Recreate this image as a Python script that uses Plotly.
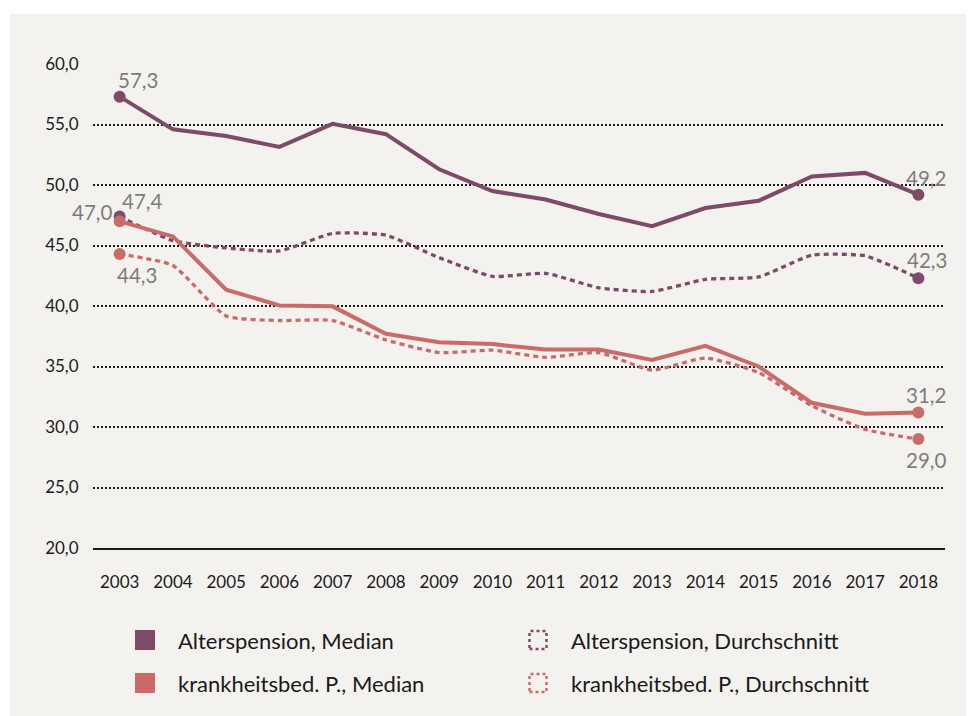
import plotly.graph_objects as go

years = list(range(2003, 2019))
alters_median = [57.3, 54.6, 54.05, 53.15, 55.05, 54.2, 51.3, 49.5, 48.8, 47.6, 46.6, 48.1, 48.7, 50.7, 51.0, 49.2]
alters_avg = [47.4, 45.4, 44.8, 44.55, 46.0, 45.85, 44.0, 42.45, 42.7, 41.5, 41.2, 42.2, 42.4, 44.2, 44.15, 42.3]
krank_median = [47.0, 45.75, 41.35, 40.05, 39.97, 37.7, 37.0, 36.85, 36.4, 36.4, 35.55, 36.7, 35.0, 32.0, 31.1, 31.2]
krank_avg = [44.3, 43.35, 39.17, 38.8, 38.8, 37.2, 36.15, 36.35, 35.75, 36.15, 34.7, 35.7, 34.5, 31.75, 29.8, 29.0]
y_ticks = [20, 25, 30, 35, 40, 45, 50, 55, 60]

legend_labels = ["Alterspension, Median", "krankheitsbed. P., Median",
                 "Alterspension, Durchschnitt", "krankheitsbed. P., Durchschnitt"]

PURPLE = "#7d4b68"
SALMON = "#c96b69"
BG = "#f4f2ef"
LABEL_GREY = "#7c7c7c"
FONT = "Lato"

OFF = 8  # page body margin compensation
W, H = 974, 716
L, R, T, B = 93 - OFF, 945 - OFF, 64 - OFF, 548 - OFF  # plot area in figure pixels

def px(x):
    return (x - OFF - L) / (R - L)

def py(y):
    return (B - (y - OFF)) / (B - T)

fig = go.Figure()

series = [
    (alters_avg, PURPLE, "5px,4px", "spline"),
    (krank_avg, SALMON, "5px,4px", "spline"),
    (alters_median, PURPLE, "solid", "linear"),
    (krank_median, SALMON, "solid", "linear"),
]
for vals, col, dash, shape in series:
    fig.add_trace(go.Scatter(
        x=years, y=vals, mode="lines",
        line=dict(color=col, width=4 if dash == "solid" else 3.3, dash=dash,
                  shape=shape, smoothing=0.5),
        showlegend=False, hoverinfo="skip"))
    fig.add_trace(go.Scatter(
        x=[years[0], years[-1]], y=[vals[0], vals[-1]], mode="markers",
        marker=dict(color=col, size=12), showlegend=False, hoverinfo="skip"))

def fmt(v):
    return f"{v:.1f}".replace(".", ",")

# end-point labels: (series, index, xanchor, yanchor, xshift, yshift)
labels = [
    (alters_median, 0, "left", "bottom", -4, 3),
    (alters_avg, 0, "left", "bottom", 0, 1),
    (krank_median, 0, "right", "middle", -6, 9),
    (krank_avg, 0, "left", "top", -5, -7),
    (alters_median, -1, "center", "bottom", 8, 3),
    (alters_avg, -1, "center", "bottom", 9, 4),
    (krank_median, -1, "center", "bottom", 8, 3),
    (krank_avg, -1, "center", "top", 8, -7),
]
for vals, idx, xa, ya, xs, ys in labels:
    fig.add_annotation(x=years[idx], y=vals[idx], text=fmt(vals[idx]), showarrow=False,
                       xanchor=xa, yanchor=ya, xshift=xs, yshift=ys,
                       font=dict(family=FONT, size=20.5, color=LABEL_GREY))

shapes = [
    dict(type="rect", xref="paper", yref="paper", x0=px(10), x1=px(990), y0=py(740), y1=py(14),
         fillcolor=BG, line=dict(width=0), layer="below"),
]
# legend swatches and texts
leg_pos = [(135, 640), (135, 683), (528, 640), (528, 683)]
leg_cols = [PURPLE, SALMON, PURPLE, SALMON]
for i, (lab, (lx, ly), col) in enumerate(zip(legend_labels, leg_pos, leg_cols)):
    if i < 2:
        shapes.append(dict(type="rect", xref="paper", yref="paper",
                           x0=px(lx), x1=px(lx + 20), y0=py(ly + 10), y1=py(ly - 10),
                           fillcolor=col, line=dict(width=0)))
    else:
        shapes.append(dict(type="rect", xref="paper", yref="paper",
                           x0=px(lx + 1.5), x1=px(lx + 18.5), y0=py(ly + 9), y1=py(ly - 9),
                           fillcolor="rgba(0,0,0,0)", line=dict(color=col, width=2.5, dash="3px,3px")))
    fig.add_annotation(xref="paper", yref="paper", x=px(lx + 41), y=py(ly), text=lab,
                       showarrow=False, xanchor="left", yanchor="middle",
                       font=dict(family=FONT, size=22, color="#1a1a1a"))

fig.update_layout(
    width=W, height=H,
    margin=dict(l=L, r=W - R, t=T, b=H - B, pad=0),
    paper_bgcolor="white", plot_bgcolor="rgba(0,0,0,0)",
    separators=",.",
    font=dict(family=FONT, size=17, color="#1a1a1a"),
    shapes=shapes,
    xaxis=dict(range=[2002.5, 2018.5], tickmode="array", tickvals=years,
               ticktext=[str(y) for y in years], showgrid=False, zeroline=False,
               showline=True, linecolor="#1a1a1a", linewidth=1.5,
               ticks="outside", ticklen=18, tickcolor="rgba(0,0,0,0)",
               tickfont=dict(family=FONT, size=17, color="#1a1a1a")),
    yaxis=dict(range=[20, 60], tickmode="array", tickvals=y_ticks, tickformat=".1f",
               showgrid=True, gridcolor="#1a1a1a", griddash="1.5px,2.5px", gridwidth=1.5,
               zeroline=False, showline=False, ticks="outside", ticklen=10,
               tickcolor="rgba(0,0,0,0)",
               tickfont=dict(family=FONT, size=17, color="#1a1a1a")),
)

fig.write_html("out.html")
